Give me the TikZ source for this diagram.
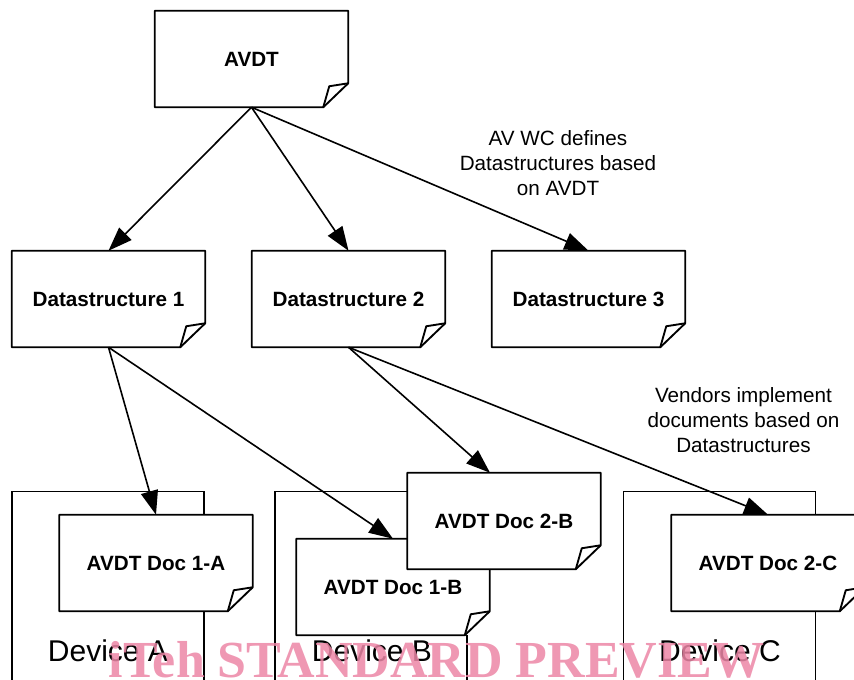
\documentclass[tikz,border=0pt]{standalone}
\usepackage{fontspec}
\setmainfont{Liberation Sans}
\newfontfamily\wmfont{Liberation Serif}
\usetikzlibrary{calc,arrows.meta}
\definecolor{wmpink}{RGB}{236,134,166}
% outline with dog-eared corner, drawn over a doc node
\newcommand{\fold}[1]{%
  \draw[line width=1.4pt,line join=round] (#1.north west)--(#1.north east)--($(#1.south east)+(0,-24)$)--($(#1.south east)+(-25,0)$)--(#1.south west)--cycle;
  \draw[line width=1.4pt,line join=round] ($(#1.south east)+(-25,0)$)--($(#1.south east)+(-19,-21)$)--($(#1.south east)+(0,-24)$);}
\begin{document}
\begin{tikzpicture}[x=0.75pt,y=-0.75pt,>={Triangle[length=18pt,width=13pt]},
	doc/.style={fill=white,minimum width=144.75pt,minimum height=72pt,inner sep=0pt,font=\bfseries\fontsize{15.5}{18}\selectfont},
	dev/.style={draw,line width=1.1pt,minimum width=144pt,minimum height=157pt,inner sep=0pt},
	devtxt/.style={anchor=base,font=\fontsize{22.5}{27}\selectfont},
	note/.style={align=center,font=\fontsize{15.5}{19}\selectfont}]
	\path[use as bounding box,clip] (0,0) rectangle (854,680);
	% devices
	\node[dev] (devA) at (108,596) {};
	\node[dev] (devB) at (371,596) {};
	\node[dev] (devC) at (719.5,596) {};
	\node[devtxt] (labA) at (108,662) {Device A};
	\node[devtxt] (labB) at (372,662) {Device B};
	\node[devtxt] (labC) at (720,662) {Device C};
	% AVDT and datastructures
	\node[doc] (avdt) at (251.5,59) {AVDT}; \fold{avdt}
	\node[doc] (ds1) at (108.5,299) {Datastructure 1}; \fold{ds1}
	\node[doc] (ds2) at (348.5,299) {Datastructure 2}; \fold{ds2}
	\node[doc] (ds3) at (588.5,299) {Datastructure 3}; \fold{ds3}
	% vendor documents
	\node[doc] (d1a) at (156,563) {AVDT Doc 1-A}; \fold{d1a}
	\node[doc] (d1b) at (393,587) {AVDT Doc 1-B}; \fold{d1b}
	\node[doc] (d2b) at (504,521) {AVDT Doc 2-B}; \fold{d2b}
	\node[doc] (d2c) at (768,563) {AVDT Doc 2-C}; \fold{d2c}
	% arrows
	\draw[->,line width=1.2pt] (avdt.south)--(ds1.north);
	\draw[->,line width=1.2pt] (avdt.south)--(ds2.north);
	\draw[->,line width=1.2pt] (avdt.south)--(ds3.north);
	\draw[->,line width=1.2pt] (ds1.south)--(d1a.north);
	\draw[->,line width=1.2pt] (ds1.south)--(d1b.north);
	\draw[->,line width=1.2pt] (ds2.south)--([xshift=-10.5pt]d2b.north);
	\draw[->,line width=1.2pt] (ds2.south)--(d2c.north);
	\node[note] (n1) at (558,163) {AV WC defines\\Datastructures based\\on AVDT};
	\node[note] (n2) at (743.5,420) {Vendors implement\\documents based on\\Datastructures};
	\node[anchor=base,text=wmpink,opacity=0.85,font=\wmfont\bfseries\fontsize{39}{40}\selectfont] (wm) at (436.5,678) {iTeh STANDARD PREVIEW};
\end{tikzpicture}
\end{document}
